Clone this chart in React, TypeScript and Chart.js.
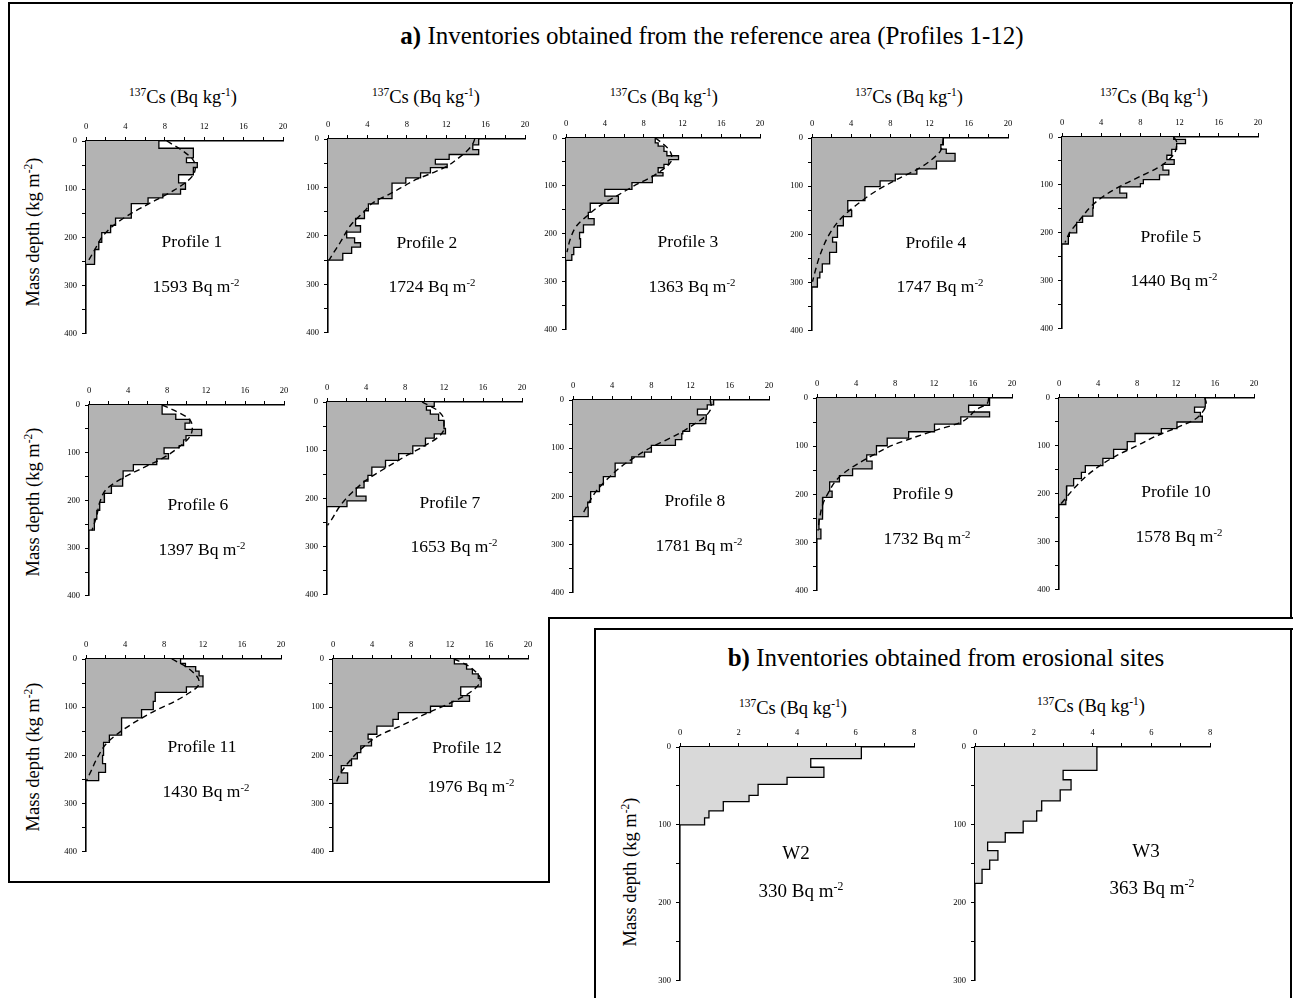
import { useEffect, useRef } from 'react';
import Chart from 'chart.js/auto';

// ---------- DATA (depth in kg m-2, 137Cs in Bq kg-1) ----------
const p1Depth = [0, 15, 35, 45, 55, 70, 87, 100, 110, 118, 130, 160, 175, 190, 210, 225, 240, 256];
const p1Conc = [7.4, 10.9, 10.2, 11.3, 10.9, 9.4, 10.1, 9.6, 7.8, 6.3, 4.6, 3.0, 2.5, 1.6, 1.3, 0.9, 0.85];
const p1FitDepth = [0, 20, 40, 55, 70, 85, 100, 115, 130, 150, 175, 200, 225, 250];
const p1FitConc = [8.2, 9.8, 10.9, 11.1, 10.9, 10.2, 9.1, 7.8, 6.4, 4.6, 2.8, 1.6, 0.9, 0.2];

const p2Depth = [0, 12, 22, 32, 42, 52, 59, 70, 80, 91, 123, 134, 148, 164, 179, 192, 204, 214, 223, 236, 250];
const p2Conc = [15.3, 14.7, 15.3, 12.3, 10.9, 12.1, 10.4, 9.4, 7.9, 6.5, 5.1, 4.1, 3.7, 2.8, 3.3, 1.9, 2.7, 3.3, 2.4, 1.5];
const p2FitDepth = [0, 10, 25, 40, 56, 70, 83, 96, 110, 131, 151, 178, 213, 240, 250];
const p2FitConc = [14.9, 14.7, 14.1, 13.2, 12.1, 10.6, 9.0, 7.8, 6.6, 4.6, 3.6, 2.3, 1.25, 0.4, 0.1];

const p3Depth = [0, 10, 17, 28, 37, 45, 55, 62, 72, 79, 93, 107, 121, 136, 155, 168, 181, 197, 210, 228, 243, 255];
const p3Conc = [9.2, 9.5, 10.1, 10.4, 11.6, 10.6, 10.1, 9.5, 10.0, 8.9, 6.8, 4.0, 5.4, 2.5, 2.3, 2.9, 1.8, 1.4, 1.5, 0.8, 0.6];
const p3FitDepth = [0, 12, 24, 38, 50, 59, 79, 100, 121, 141, 162, 183, 210, 238];
const p3FitConc = [9.2, 10.0, 10.6, 10.9, 10.8, 10.4, 9.0, 7.0, 5.2, 3.5, 2.2, 1.1, 0.45, 0.1];

const p4Depth = [0, 14, 23, 32, 48, 64, 75, 89, 101, 130, 150, 163, 182, 206, 216, 237, 261, 278, 290, 309];
const p4Conc = [13.4, 13.15, 13.7, 14.6, 12.7, 10.7, 8.5, 6.95, 5.4, 3.65, 4.05, 3.2, 2.6, 2.1, 2.5, 1.8, 1.05, 0.8, 0.55];
const p4FitDepth = [0, 15, 27, 45, 62, 86, 113, 141, 168, 202, 244, 278, 298];
const p4FitConc = [13.4, 13.3, 13.1, 12.2, 11.0, 8.65, 6.3, 4.4, 2.9, 1.7, 0.8, 0.3, 0.05];

const p5Depth = [0, 5, 14, 26, 38, 47, 57, 69, 79, 89, 97, 104, 117, 127, 148, 165, 178, 200, 207, 223];
const p5Conc = [11.4, 12.6, 11.7, 11.2, 10.7, 11.45, 10.3, 10.9, 9.95, 8.3, 8.0, 5.9, 6.6, 3.2, 3.15, 2.1, 1.5, 0.75, 0.65];
const p5FitDepth = [0, 10, 31, 51, 65, 82, 103, 124, 144, 172, 199, 220];
const p5FitConc = [11.4, 11.7, 11.55, 10.7, 9.7, 8.0, 5.9, 4.2, 3.0, 1.85, 0.8, 0.3];

const p6Depth = [0, 19, 30, 38, 51, 64, 73, 85, 90, 102, 113, 125, 138, 154, 170, 185, 197, 204, 221, 239, 262];
const p6Conc = [7.5, 8.9, 10.35, 9.85, 11.55, 9.95, 9.7, 9.25, 7.7, 8.15, 6.95, 4.55, 3.5, 3.45, 2.3, 1.55, 1.6, 1.1, 0.8, 0.55];
const p6FitDepth = [0, 14, 28, 46, 66, 87, 111, 135, 156, 176, 204, 232, 263];
const p6FitConc = [7.5, 9.0, 10.2, 10.6, 10.35, 9.3, 7.6, 5.2, 3.2, 1.8, 1.1, 0.8, 0.3];

const p7Depth = [0, 9, 17, 25, 38, 55, 66, 75, 91, 107, 121, 135, 152, 164, 178, 195, 205, 217];
const p7Conc = [11.0, 10.2, 10.6, 11.45, 12.0, 12.15, 11.0, 10.1, 8.8, 7.35, 6.0, 4.6, 4.2, 3.8, 3.0, 4.0, 2.05];
const p7FitDepth = [0, 17, 38, 55, 72, 92, 113, 137, 161, 188, 215, 243, 256];
const p7FitConc = [9.75, 11.3, 12.0, 12.0, 11.45, 9.9, 8.0, 6.0, 4.1, 2.55, 1.35, 0.5, 0.05];

const p8Depth = [0, 10, 19, 31, 40, 49, 65, 70, 82, 94, 108, 118, 131, 159, 176, 190, 212, 222, 242];
const p8Conc = [14.35, 13.7, 12.7, 13.6, 13.55, 11.9, 11.2, 11.1, 10.45, 8.0, 7.3, 6.0, 4.3, 3.1, 2.7, 1.8, 1.5, 1.55];
const p8FitDepth = [0, 14, 34, 51, 68, 82, 99, 120, 140, 164, 191, 219, 236];
const p8FitConc = [14.0, 14.1, 13.5, 12.3, 10.95, 9.6, 7.9, 6.2, 4.8, 3.5, 2.3, 1.45, 1.0];

const p9Depth = [0, 15, 29, 39, 54, 70, 83, 99, 118, 131, 147, 161, 174, 193, 206, 230, 251, 272, 292];
const p9Conc = [17.7, 15.55, 17.7, 14.75, 12.05, 9.4, 7.2, 6.1, 5.1, 5.65, 3.65, 2.3, 1.3, 1.55, 0.6, 0.55, 0.2, 0.4];
const p9FitDepth = [0, 10, 25, 50, 68, 85, 100, 118, 135, 152, 170, 195, 220, 245, 275];
const p9FitConc = [17.6, 17.5, 16.3, 14.8, 12.0, 9.5, 7.5, 5.8, 4.3, 3.0, 2.0, 1.2, 0.6, 0.3, 0.1];

const p10Depth = [0, 19, 30, 38, 50, 64, 74, 91, 107, 126, 141, 155, 168, 183, 192, 213, 222];
const p10Conc = [15.0, 13.9, 14.5, 14.7, 12.1, 10.5, 7.8, 7.0, 5.6, 4.5, 2.7, 2.3, 1.5, 0.8, 0.75, 0.7];
const p10FitDepth = [0, 10, 27, 45, 62, 79, 100, 120, 141, 162, 186, 206, 223];
const p10FitConc = [14.95, 15.1, 14.8, 13.9, 12.05, 10.0, 7.95, 5.9, 4.2, 2.85, 1.65, 0.8, 0.1];

const p11Depth = [0, 9, 16, 25, 35, 58, 69, 88, 105, 122, 158, 173, 200, 217, 235, 252];
const p11Conc = [9.7, 10.2, 11.25, 11.6, 12.0, 10.3, 7.1, 6.9, 5.7, 3.65, 2.4, 1.8, 1.7, 2.0, 1.3];
const p11FitDepth = [0, 16, 33, 46, 58, 70, 88, 105, 125, 149, 173, 207, 231, 252];
const p11FitConc = [8.8, 10.25, 11.25, 11.6, 11.4, 10.6, 9.1, 7.3, 5.5, 3.65, 2.2, 1.1, 0.55, 0.05];

const p12Depth = [0, 10, 21, 31, 40, 58, 76, 88, 98, 111, 125, 139, 156, 166, 180, 194, 207, 221, 236, 258];
const p12Conc = [12.45, 13.7, 14.3, 14.9, 15.2, 13.1, 14.0, 12.2, 10.0, 6.7, 6.15, 4.5, 3.6, 3.95, 2.85, 2.5, 1.9, 0.85, 1.5];
const p12FitDepth = [0, 12, 26, 40, 53, 70, 88, 111, 139, 159, 187, 214, 241, 258];
const p12FitConc = [12.4, 13.7, 14.6, 15.1, 14.95, 14.0, 12.4, 9.8, 6.9, 4.7, 2.85, 1.6, 0.65, 0.3];

const w2Depth = [0, 15, 26, 39, 48, 62, 70, 82, 91, 100];
const w2Conc = [6.2, 4.47, 4.92, 3.66, 2.67, 2.36, 1.48, 0.99, 0.84];

const w3Depth = [0, 30, 42, 55, 69, 82, 95, 110, 122, 133, 145, 157, 175];
const w3Conc = [4.15, 3.0, 3.27, 2.9, 2.27, 2.1, 1.64, 1.03, 0.43, 0.78, 0.5, 0.24];

const siteNames = ['Profile 1', 'Profile 2', 'Profile 3', 'Profile 4', 'Profile 5', 'Profile 6', 'Profile 7', 'Profile 8', 'Profile 9', 'Profile 10', 'Profile 11', 'Profile 12', 'W2', 'W3'];
const inventories = [1593, 1724, 1363, 1747, 1440, 1397, 1653, 1781, 1732, 1578, 1430, 1976, 330, 363];

const profileXTicks = { max: 20, step: 2, labelEvery: 4 };
const profileYTicks = { max: 400, step: 50, labelEvery: 100 };
const erosionXTicks = { max: 8, step: 1, labelEvery: 2 };
const erosionYTicks = { max: 300, step: 50, labelEvery: 100 };

// ---------- LAYOUT ----------
const SERIF = '"Liberation Serif", "Times New Roman", Times, serif';
const PROFILE_FILL = '#b3b3b3';
const EROSION_FILL = '#d9d9d9';
const PAD_L = 36;
const PAD_T = 22;
const PAD_R = 14;
const PAD_B = 8;

type Spec = {
  depth: number[];
  conc: number[];
  fitDepth?: number[];
  fitConc?: number[];
  xt: { max: number; step: number; labelEvery: number };
  yt: { max: number; step: number; labelEvery: number };
  fill: string;
  box: [number, number, number, number]; // left, right, top, bottom of plot area
  name: [number, number];
  inv: [number, number];
  labelSize: number;
};

const P = profileXTicks;
const PY = profileYTicks;
const specs: Spec[] = [
  { depth: p1Depth, conc: p1Conc, fitDepth: p1FitDepth, fitConc: p1FitConc, xt: P, yt: PY, fill: PROFILE_FILL, box: [86, 283, 141, 336], name: [192, 242], inv: [196, 287], labelSize: 17.5 },
  { depth: p2Depth, conc: p2Conc, fitDepth: p2FitDepth, fitConc: p2FitConc, xt: P, yt: PY, fill: PROFILE_FILL, box: [328, 525, 139, 335], name: [427, 243], inv: [432, 287], labelSize: 17.5 },
  { depth: p3Depth, conc: p3Conc, fitDepth: p3FitDepth, fitConc: p3FitConc, xt: P, yt: PY, fill: PROFILE_FILL, box: [566, 760, 138, 332], name: [688, 242], inv: [692, 287], labelSize: 17.5 },
  { depth: p4Depth, conc: p4Conc, fitDepth: p4FitDepth, fitConc: p4FitConc, xt: P, yt: PY, fill: PROFILE_FILL, box: [812, 1008, 138, 333], name: [936, 243], inv: [940, 287], labelSize: 17.5 },
  { depth: p5Depth, conc: p5Conc, fitDepth: p5FitDepth, fitConc: p5FitConc, xt: P, yt: PY, fill: PROFILE_FILL, box: [1062, 1258, 137, 331], name: [1171, 237], inv: [1174, 281], labelSize: 17.5 },
  { depth: p6Depth, conc: p6Conc, fitDepth: p6FitDepth, fitConc: p6FitConc, xt: P, yt: PY, fill: PROFILE_FILL, box: [89, 284, 405, 598], name: [198, 505], inv: [202, 550], labelSize: 17.5 },
  { depth: p7Depth, conc: p7Conc, fitDepth: p7FitDepth, fitConc: p7FitConc, xt: P, yt: PY, fill: PROFILE_FILL, box: [327, 522, 402, 597], name: [450, 503], inv: [454, 547], labelSize: 17.5 },
  { depth: p8Depth, conc: p8Conc, fitDepth: p8FitDepth, fitConc: p8FitConc, xt: P, yt: PY, fill: PROFILE_FILL, box: [573, 769, 400, 595], name: [695, 501], inv: [699, 546], labelSize: 17.5 },
  { depth: p9Depth, conc: p9Conc, fitDepth: p9FitDepth, fitConc: p9FitConc, xt: P, yt: PY, fill: PROFILE_FILL, box: [817, 1012, 398, 593], name: [923, 494], inv: [927, 539], labelSize: 17.5 },
  { depth: p10Depth, conc: p10Conc, fitDepth: p10FitDepth, fitConc: p10FitConc, xt: P, yt: PY, fill: PROFILE_FILL, box: [1059, 1254, 398, 592], name: [1176, 492], inv: [1179, 537], labelSize: 17.5 },
  { depth: p11Depth, conc: p11Conc, fitDepth: p11FitDepth, fitConc: p11FitConc, xt: P, yt: PY, fill: PROFILE_FILL, box: [86, 281, 659, 854], name: [202, 747], inv: [206, 792], labelSize: 17.5 },
  { depth: p12Depth, conc: p12Conc, fitDepth: p12FitDepth, fitConc: p12FitConc, xt: P, yt: PY, fill: PROFILE_FILL, box: [333, 528, 659, 854], name: [467, 748], inv: [471, 787], labelSize: 17.5 },
  { depth: w2Depth, conc: w2Conc, xt: erosionXTicks, yt: erosionYTicks, fill: EROSION_FILL, box: [680, 914, 747, 983], name: [796, 852], inv: [801, 890], labelSize: 19 },
  { depth: w3Depth, conc: w3Conc, xt: erosionXTicks, yt: erosionYTicks, fill: EROSION_FILL, box: [975, 1210, 747, 983], name: [1146, 850], inv: [1152, 887], labelSize: 19 },
];

const csLabels: [number, number][] = [[183, 97], [426, 97], [664, 97], [909, 97], [1154, 97], [793, 708], [1091, 706]];
const depthLabels: [number, number][] = [[33, 232], [33, 502], [33, 757], [630, 872]];

function outlinePoints(depth: number[], conc: number[]) {
  const pts: { x: number; y: number }[] = [];
  for (let i = 0; i < conc.length; i++) {
    pts.push({ x: conc[i], y: depth[i] });
    pts.push({ x: conc[i], y: depth[i + 1] });
  }
  pts.push({ x: 0, y: depth[depth.length - 1] });
  return pts;
}

function Panel({ spec }: { spec: Spec }) {
  const ref = useRef<HTMLCanvasElement | null>(null);
  const [L, R, T, B] = spec.box;
  const w = R - L + PAD_L + PAD_R;
  const h = B - T + PAD_T + PAD_B;
  useEffect(() => {
    if (!ref.current) return;
    const datasets: any[] = [
      {
        data: outlinePoints(spec.depth, spec.conc),
        borderColor: '#000',
        borderWidth: 1.3,
        backgroundColor: spec.fill,
        fill: 'origin',
        pointRadius: 0,
        tension: 0,
        order: 2,
      },
    ];
    if (spec.fitDepth && spec.fitConc) {
      datasets.push({
        data: spec.fitDepth.map((d, i) => ({ x: spec.fitConc![i], y: d })),
        borderColor: '#000',
        borderWidth: 1.4,
        borderDash: [6, 4],
        fill: false,
        pointRadius: 0,
        tension: 0.4,
        cubicInterpolationMode: 'monotone',
        order: 1,
      });
    }
    const tickFont = { family: SERIF, size: 8.5 };
    const chart = new Chart(ref.current, {
      type: 'line',
      data: { datasets },
      options: {
        indexAxis: 'y',
        responsive: false,
        maintainAspectRatio: false,
        animation: false,
        events: [],
        layout: { padding: { left: 0, top: 0, right: PAD_R, bottom: PAD_B } },
        plugins: { legend: { display: false }, tooltip: { enabled: false }, title: { display: false } },
        scales: {
          x: {
            type: 'linear',
            position: 'top',
            min: 0,
            max: spec.xt.max,
            z: 1,
            grid: { drawOnChartArea: false, drawTicks: true, tickLength: 4, color: '#000', lineWidth: 1 },
            border: { display: true, color: '#000', width: 1.6 },
            ticks: {
              stepSize: spec.xt.step,
              autoSkip: false,
              maxRotation: 0,
              padding: 5,
              color: '#000',
              font: tickFont,
              callback: (v: any) => (Number(v) % spec.xt.labelEvery === 0 ? String(v) : ''),
            },
            afterFit: (s: any) => {
              s.height = PAD_T;
            },
          },
          y: {
            type: 'linear',
            position: 'left',
            reverse: true,
            min: 0,
            max: spec.yt.max,
            z: 1,
            grid: { drawOnChartArea: false, drawTicks: true, tickLength: 4, color: '#000', lineWidth: 1 },
            border: { display: true, color: '#000', width: 1.6 },
            ticks: {
              stepSize: spec.yt.step,
              autoSkip: false,
              padding: 5,
              color: '#000',
              font: tickFont,
              callback: (v: any) => (Number(v) % spec.yt.labelEvery === 0 ? String(v) : ''),
            },
            afterFit: (s: any) => {
              s.width = PAD_L;
            },
          },
        },
      } as any,
    });
    return () => chart.destroy();
  }, [spec]);
  return (
    <canvas
      ref={ref}
      width={w}
      height={h}
      style={{ position: 'absolute', left: L - PAD_L, top: T - PAD_T, width: w, height: h }}
    />
  );
}

function Text({ x, y, size, rotate, children }: { x: number; y: number; size: number; rotate?: boolean; children: any }) {
  return (
    <div
      style={{
        position: 'absolute',
        left: x,
        top: y,
        transform: `translate(-50%, -50%)${rotate ? ' rotate(-90deg)' : ''}`,
        fontFamily: SERIF,
        fontSize: size,
        lineHeight: 1,
        whiteSpace: 'nowrap',
        color: '#000',
      }}
    >
      {children}
    </div>
  );
}

const sup = { fontSize: '0.62em', verticalAlign: '0.55em', lineHeight: 0 } as const;

function Line({ x, y, w, h }: { x: number; y: number; w: number; h: number }) {
  return <div style={{ position: 'absolute', left: x, top: y, width: w, height: h, background: '#000' }} />;
}

export default function App() {
  return (
    <div style={{ position: 'fixed', left: 0, top: 0, width: 1293, height: 998, background: '#fff', overflow: 'hidden' }}>
      {/* frame a) */}
      <Line x={8} y={2} w={1285} h={2} />
      <Line x={8} y={2} w={2} h={881} />
      <Line x={1290} y={2} w={2} h={617} />
      <Line x={548} y={617} w={745} h={2} />
      <Line x={548} y={617} w={2} h={266} />
      <Line x={8} y={881} w={542} h={2} />
      {/* frame b) */}
      <Line x={594} y={628} w={699} h={2} />
      <Line x={594} y={628} w={2} h={370} />
      <Line x={1290} y={628} w={2} h={370} />

      <Text x={712} y={35} size={25}>
        <b>a)</b> Inventories obtained from the reference area (Profiles 1-12)
      </Text>
      <Text x={946} y={657} size={25}>
        <b>b)</b> Inventories obtained from erosional sites
      </Text>

      {csLabels.map(([x, y], i) => (
        <Text key={'cs' + i} x={x} y={y} size={18.5}>
          <span style={sup}>137</span>Cs (Bq kg<span style={sup}>-1</span>)
        </Text>
      ))}
      {depthLabels.map(([x, y], i) => (
        <Text key={'md' + i} x={x} y={y} size={18.5} rotate>
          Mass depth (kg m<span style={sup}>-2</span>)
        </Text>
      ))}

      {specs.map((s, i) => (
        <Panel key={'p' + i} spec={s} />
      ))}
      {specs.map((s, i) => (
        <Text key={'n' + i} x={s.name[0]} y={s.name[1]} size={s.labelSize}>
          {siteNames[i]}
        </Text>
      ))}
      {specs.map((s, i) => (
        <Text key={'v' + i} x={s.inv[0]} y={s.inv[1]} size={s.labelSize}>
          {inventories[i]} Bq m<span style={sup}>-2</span>
        </Text>
      ))}
    </div>
  );
}
